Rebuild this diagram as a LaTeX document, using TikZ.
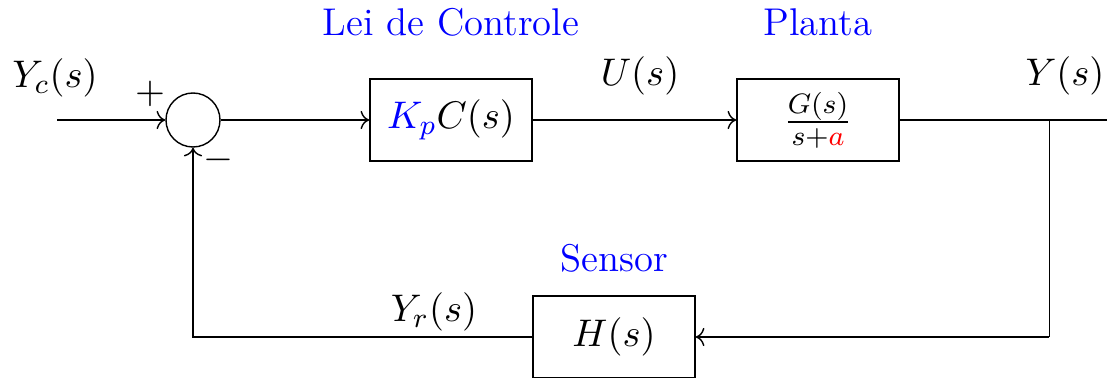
\documentclass[tikz,border=0pt]{standalone}
\usepackage{xcolor}
\usetikzlibrary{arrows.meta, positioning, calc}

\begin{document}
\begin{tikzpicture}[
    block/.style={draw, minimum width=1.62cm, minimum height=0.82cm, align=center, inner sep=0pt},
    sumnode/.style={draw, circle, minimum size=0.54cm, inner sep=0pt},
    title/.style={text=blue},
    arrow/.style={->},
    font=\fontsize{11}{13.5}\selectfont
]
\useasboundingbox (0,0) rectangle (11.07,3.78);

% Nodes
\coordinate (input) at (0.57,2.58);
\node[sumnode] (sum) at (1.93,2.58) {};
\node[block] (control) at (4.51,2.58) {$\textcolor{blue}{K_p}C(s)$};
\node[block] (plant) at (8.18,2.58) {$\frac{G(s)}{s+\textcolor{red}{a}}$};
\coordinate (output) at (11.07,2.58);
\coordinate (branch) at (10.49,2.58);
\node[block] (sensor) at (6.14,0.41) {$H(s)$};

% Labels
\node[title] (ctitle) at (4.51,3.56) {Lei de Controle};
\node[title] (ptitle) at (8.18,3.56) {Planta};
\node[title] (stitle) at (6.14,1.20) {Sensor};
\node (yc) at (0.55,3.00) {$Y_c(s)$};
\node (u) at (6.40,3.02) {$U(s)$};
\node (y) at (10.65,3.02) {$Y(s)$};
\node (yr) at (4.34,0.66) {$Y_r(s)$};
\node (plus) at (1.50,2.84) {$+$};
\node (minus) at (2.18,2.18) {$-$};

% Arrows for the loop
\draw[arrow] (input) -- (sum);
\draw[arrow] (sum) -- (control);
\draw[arrow] (control) -- (plant);
\draw (plant) -- (output);
\draw[very thin] (branch) -- (branch |- sensor);
\draw[arrow] (branch |- sensor) -- (sensor);
\draw[arrow] (sensor) -| (sum);

\end{tikzpicture}
\end{document}
